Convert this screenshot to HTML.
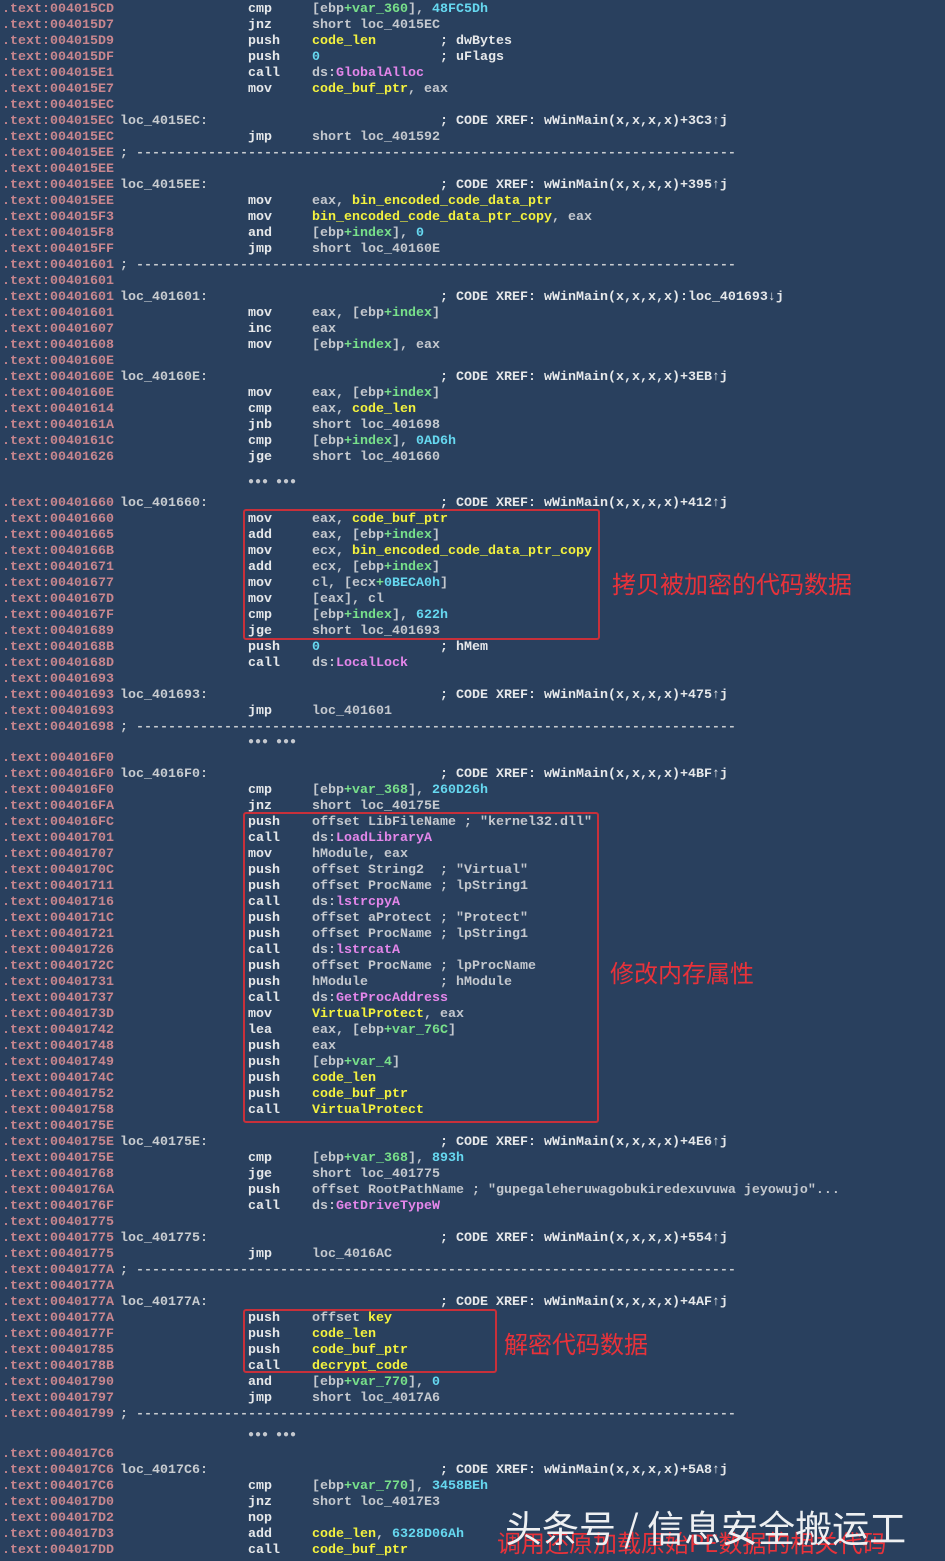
<!DOCTYPE html><html><head><meta charset="utf-8"><style>
body{margin:0;width:945px;height:1561px;background:#29405e;overflow:hidden;position:relative;font-family:"Liberation Mono",monospace;font-size:13.33px;font-weight:bold}
.r{position:absolute;left:0;height:16px;line-height:16px;white-space:pre;width:945px;color:#e6e8ea;margin-top:2px}
.r span{position:absolute}
.a{left:2px;color:#c8868e}.l{left:120px;color:#c8ccd0}.m{left:248px;color:#e6e8ea}.o{left:312px;color:#c4c8ce}.k{left:440px;color:#e6e8ea}
.r b{font-weight:bold;position:static}
.y{color:#f4f23e}.c{color:#66d8f0}.g{color:#78e08a}.p{color:#e486ea}
.box{position:absolute;border:2px solid #c8303a;border-radius:3px}
.t{position:absolute;color:#e8323a;font-family:"Noto Sans CJK SC",sans-serif;font-weight:normal;white-space:nowrap}
.d{position:absolute;left:248px;color:#c4c8ce;font-size:10px;letter-spacing:1px;margin-top:2px}
</style></head><body>
<div class="r" style="top:0"><span class="a">.text:004015CD</span><span class="m">cmp</span><span class="o">[ebp<b class="g">+var_360</b>], <b class="c">48FC5Dh</b></span></div>
<div class="r" style="top:16px"><span class="a">.text:004015D7</span><span class="m">jnz</span><span class="o">short loc_4015EC</span></div>
<div class="r" style="top:32px"><span class="a">.text:004015D9</span><span class="m">push</span><span class="o"><b class="y">code_len</b></span><span class="k">; dwBytes</span></div>
<div class="r" style="top:48px"><span class="a">.text:004015DF</span><span class="m">push</span><span class="o"><b class="c">0</b></span><span class="k">; uFlags</span></div>
<div class="r" style="top:64px"><span class="a">.text:004015E1</span><span class="m">call</span><span class="o">ds:<b class="p">GlobalAlloc</b></span></div>
<div class="r" style="top:80px"><span class="a">.text:004015E7</span><span class="m">mov</span><span class="o"><b class="y">code_buf_ptr</b>, eax</span></div>
<div class="r" style="top:96px"><span class="a">.text:004015EC</span></div>
<div class="r" style="top:112px"><span class="a">.text:004015EC</span><span class="l">loc_4015EC:</span><span class="k">; CODE XREF: wWinMain(x,x,x,x)+3C3↑j</span></div>
<div class="r" style="top:128px"><span class="a">.text:004015EC</span><span class="m">jmp</span><span class="o">short loc_401592</span></div>
<div class="r" style="top:144px"><span class="a">.text:004015EE</span><span class="l">; ---------------------------------------------------------------------------</span></div>
<div class="r" style="top:160px"><span class="a">.text:004015EE</span></div>
<div class="r" style="top:176px"><span class="a">.text:004015EE</span><span class="l">loc_4015EE:</span><span class="k">; CODE XREF: wWinMain(x,x,x,x)+395↑j</span></div>
<div class="r" style="top:192px"><span class="a">.text:004015EE</span><span class="m">mov</span><span class="o">eax, <b class="y">bin_encoded_code_data_ptr</b></span></div>
<div class="r" style="top:208px"><span class="a">.text:004015F3</span><span class="m">mov</span><span class="o"><b class="y">bin_encoded_code_data_ptr_copy</b>, eax</span></div>
<div class="r" style="top:224px"><span class="a">.text:004015F8</span><span class="m">and</span><span class="o">[ebp<b class="g">+index</b>], <b class="c">0</b></span></div>
<div class="r" style="top:240px"><span class="a">.text:004015FF</span><span class="m">jmp</span><span class="o">short loc_40160E</span></div>
<div class="r" style="top:256px"><span class="a">.text:00401601</span><span class="l">; ---------------------------------------------------------------------------</span></div>
<div class="r" style="top:272px"><span class="a">.text:00401601</span></div>
<div class="r" style="top:288px"><span class="a">.text:00401601</span><span class="l">loc_401601:</span><span class="k">; CODE XREF: wWinMain(x,x,x,x):loc_401693↓j</span></div>
<div class="r" style="top:304px"><span class="a">.text:00401601</span><span class="m">mov</span><span class="o">eax, [ebp<b class="g">+index</b>]</span></div>
<div class="r" style="top:320px"><span class="a">.text:00401607</span><span class="m">inc</span><span class="o">eax</span></div>
<div class="r" style="top:336px"><span class="a">.text:00401608</span><span class="m">mov</span><span class="o">[ebp<b class="g">+index</b>], eax</span></div>
<div class="r" style="top:352px"><span class="a">.text:0040160E</span></div>
<div class="r" style="top:368px"><span class="a">.text:0040160E</span><span class="l">loc_40160E:</span><span class="k">; CODE XREF: wWinMain(x,x,x,x)+3EB↑j</span></div>
<div class="r" style="top:384px"><span class="a">.text:0040160E</span><span class="m">mov</span><span class="o">eax, [ebp<b class="g">+index</b>]</span></div>
<div class="r" style="top:400px"><span class="a">.text:00401614</span><span class="m">cmp</span><span class="o">eax, <b class="y">code_len</b></span></div>
<div class="r" style="top:416px"><span class="a">.text:0040161A</span><span class="m">jnb</span><span class="o">short loc_401698</span></div>
<div class="r" style="top:432px"><span class="a">.text:0040161C</span><span class="m">cmp</span><span class="o">[ebp<b class="g">+index</b>], <b class="c">0AD6h</b></span></div>
<div class="r" style="top:448px"><span class="a">.text:00401626</span><span class="m">jge</span><span class="o">short loc_401660</span></div>
<div class="d" style="top:475px">●●● ●●●</div>
<div class="r" style="top:494px"><span class="a">.text:00401660</span><span class="l">loc_401660:</span><span class="k">; CODE XREF: wWinMain(x,x,x,x)+412↑j</span></div>
<div class="r" style="top:510px"><span class="a">.text:00401660</span><span class="m">mov</span><span class="o">eax, <b class="y">code_buf_ptr</b></span></div>
<div class="r" style="top:526px"><span class="a">.text:00401665</span><span class="m">add</span><span class="o">eax, [ebp<b class="g">+index</b>]</span></div>
<div class="r" style="top:542px"><span class="a">.text:0040166B</span><span class="m">mov</span><span class="o">ecx, <b class="y">bin_encoded_code_data_ptr_copy</b></span></div>
<div class="r" style="top:558px"><span class="a">.text:00401671</span><span class="m">add</span><span class="o">ecx, [ebp<b class="g">+index</b>]</span></div>
<div class="r" style="top:574px"><span class="a">.text:00401677</span><span class="m">mov</span><span class="o">cl, [ecx<b class="g">+</b><b class="c">0BECA0h</b>]</span></div>
<div class="r" style="top:590px"><span class="a">.text:0040167D</span><span class="m">mov</span><span class="o">[eax], cl</span></div>
<div class="r" style="top:606px"><span class="a">.text:0040167F</span><span class="m">cmp</span><span class="o">[ebp<b class="g">+index</b>], <b class="c">622h</b></span></div>
<div class="r" style="top:622px"><span class="a">.text:00401689</span><span class="m">jge</span><span class="o">short loc_401693</span></div>
<div class="r" style="top:638px"><span class="a">.text:0040168B</span><span class="m">push</span><span class="o"><b class="c">0</b></span><span class="k">; hMem</span></div>
<div class="r" style="top:654px"><span class="a">.text:0040168D</span><span class="m">call</span><span class="o">ds:<b class="p">LocalLock</b></span></div>
<div class="r" style="top:670px"><span class="a">.text:00401693</span></div>
<div class="r" style="top:686px"><span class="a">.text:00401693</span><span class="l">loc_401693:</span><span class="k">; CODE XREF: wWinMain(x,x,x,x)+475↑j</span></div>
<div class="r" style="top:702px"><span class="a">.text:00401693</span><span class="m">jmp</span><span class="o">loc_401601</span></div>
<div class="r" style="top:718px"><span class="a">.text:00401698</span><span class="l">; ---------------------------------------------------------------------------</span></div>
<div class="d" style="top:735px">●●● ●●●</div>
<div class="r" style="top:749px"><span class="a">.text:004016F0</span></div>
<div class="r" style="top:765px"><span class="a">.text:004016F0</span><span class="l">loc_4016F0:</span><span class="k">; CODE XREF: wWinMain(x,x,x,x)+4BF↑j</span></div>
<div class="r" style="top:781px"><span class="a">.text:004016F0</span><span class="m">cmp</span><span class="o">[ebp<b class="g">+var_368</b>], <b class="c">260D26h</b></span></div>
<div class="r" style="top:797px"><span class="a">.text:004016FA</span><span class="m">jnz</span><span class="o">short loc_40175E</span></div>
<div class="r" style="top:813px"><span class="a">.text:004016FC</span><span class="m">push</span><span class="o">offset LibFileName ; "kernel32.dll"</span></div>
<div class="r" style="top:829px"><span class="a">.text:00401701</span><span class="m">call</span><span class="o">ds:<b class="p">LoadLibraryA</b></span></div>
<div class="r" style="top:845px"><span class="a">.text:00401707</span><span class="m">mov</span><span class="o">hModule, eax</span></div>
<div class="r" style="top:861px"><span class="a">.text:0040170C</span><span class="m">push</span><span class="o">offset String2  ; "Virtual"</span></div>
<div class="r" style="top:877px"><span class="a">.text:00401711</span><span class="m">push</span><span class="o">offset ProcName ; lpString1</span></div>
<div class="r" style="top:893px"><span class="a">.text:00401716</span><span class="m">call</span><span class="o">ds:<b class="p">lstrcpyA</b></span></div>
<div class="r" style="top:909px"><span class="a">.text:0040171C</span><span class="m">push</span><span class="o">offset aProtect ; "Protect"</span></div>
<div class="r" style="top:925px"><span class="a">.text:00401721</span><span class="m">push</span><span class="o">offset ProcName ; lpString1</span></div>
<div class="r" style="top:941px"><span class="a">.text:00401726</span><span class="m">call</span><span class="o">ds:<b class="p">lstrcatA</b></span></div>
<div class="r" style="top:957px"><span class="a">.text:0040172C</span><span class="m">push</span><span class="o">offset ProcName ; lpProcName</span></div>
<div class="r" style="top:973px"><span class="a">.text:00401731</span><span class="m">push</span><span class="o">hModule         ; hModule</span></div>
<div class="r" style="top:989px"><span class="a">.text:00401737</span><span class="m">call</span><span class="o">ds:<b class="p">GetProcAddress</b></span></div>
<div class="r" style="top:1005px"><span class="a">.text:0040173D</span><span class="m">mov</span><span class="o"><b class="y">VirtualProtect</b>, eax</span></div>
<div class="r" style="top:1021px"><span class="a">.text:00401742</span><span class="m">lea</span><span class="o">eax, [ebp<b class="g">+var_76C</b>]</span></div>
<div class="r" style="top:1037px"><span class="a">.text:00401748</span><span class="m">push</span><span class="o">eax</span></div>
<div class="r" style="top:1053px"><span class="a">.text:00401749</span><span class="m">push</span><span class="o">[ebp<b class="g">+var_4</b>]</span></div>
<div class="r" style="top:1069px"><span class="a">.text:0040174C</span><span class="m">push</span><span class="o"><b class="y">code_len</b></span></div>
<div class="r" style="top:1085px"><span class="a">.text:00401752</span><span class="m">push</span><span class="o"><b class="y">code_buf_ptr</b></span></div>
<div class="r" style="top:1101px"><span class="a">.text:00401758</span><span class="m">call</span><span class="o"><b class="y">VirtualProtect</b></span></div>
<div class="r" style="top:1117px"><span class="a">.text:0040175E</span></div>
<div class="r" style="top:1133px"><span class="a">.text:0040175E</span><span class="l">loc_40175E:</span><span class="k">; CODE XREF: wWinMain(x,x,x,x)+4E6↑j</span></div>
<div class="r" style="top:1149px"><span class="a">.text:0040175E</span><span class="m">cmp</span><span class="o">[ebp<b class="g">+var_368</b>], <b class="c">893h</b></span></div>
<div class="r" style="top:1165px"><span class="a">.text:00401768</span><span class="m">jge</span><span class="o">short loc_401775</span></div>
<div class="r" style="top:1181px"><span class="a">.text:0040176A</span><span class="m">push</span><span class="o">offset RootPathName ; "gupegaleheruwagobukiredexuvuwa jeyowujo"...</span></div>
<div class="r" style="top:1197px"><span class="a">.text:0040176F</span><span class="m">call</span><span class="o">ds:<b class="p">GetDriveTypeW</b></span></div>
<div class="r" style="top:1213px"><span class="a">.text:00401775</span></div>
<div class="r" style="top:1229px"><span class="a">.text:00401775</span><span class="l">loc_401775:</span><span class="k">; CODE XREF: wWinMain(x,x,x,x)+554↑j</span></div>
<div class="r" style="top:1245px"><span class="a">.text:00401775</span><span class="m">jmp</span><span class="o">loc_4016AC</span></div>
<div class="r" style="top:1261px"><span class="a">.text:0040177A</span><span class="l">; ---------------------------------------------------------------------------</span></div>
<div class="r" style="top:1277px"><span class="a">.text:0040177A</span></div>
<div class="r" style="top:1293px"><span class="a">.text:0040177A</span><span class="l">loc_40177A:</span><span class="k">; CODE XREF: wWinMain(x,x,x,x)+4AF↑j</span></div>
<div class="r" style="top:1309px"><span class="a">.text:0040177A</span><span class="m">push</span><span class="o">offset <b class="y">key</b></span></div>
<div class="r" style="top:1325px"><span class="a">.text:0040177F</span><span class="m">push</span><span class="o"><b class="y">code_len</b></span></div>
<div class="r" style="top:1341px"><span class="a">.text:00401785</span><span class="m">push</span><span class="o"><b class="y">code_buf_ptr</b></span></div>
<div class="r" style="top:1357px"><span class="a">.text:0040178B</span><span class="m">call</span><span class="o"><b class="y">decrypt_code</b></span></div>
<div class="r" style="top:1373px"><span class="a">.text:00401790</span><span class="m">and</span><span class="o">[ebp<b class="g">+var_770</b>], <b class="c">0</b></span></div>
<div class="r" style="top:1389px"><span class="a">.text:00401797</span><span class="m">jmp</span><span class="o">short loc_4017A6</span></div>
<div class="r" style="top:1405px"><span class="a">.text:00401799</span><span class="l">; ---------------------------------------------------------------------------</span></div>
<div class="d" style="top:1428px">●●● ●●●</div>
<div class="r" style="top:1445px"><span class="a">.text:004017C6</span></div>
<div class="r" style="top:1461px"><span class="a">.text:004017C6</span><span class="l">loc_4017C6:</span><span class="k">; CODE XREF: wWinMain(x,x,x,x)+5A8↑j</span></div>
<div class="r" style="top:1477px"><span class="a">.text:004017C6</span><span class="m">cmp</span><span class="o">[ebp<b class="g">+var_770</b>], <b class="c">3458BEh</b></span></div>
<div class="r" style="top:1493px"><span class="a">.text:004017D0</span><span class="m">jnz</span><span class="o">short loc_4017E3</span></div>
<div class="r" style="top:1509px"><span class="a">.text:004017D2</span><span class="m">nop</span></div>
<div class="r" style="top:1525px"><span class="a">.text:004017D3</span><span class="m">add</span><span class="o"><b class="y">code_len</b>, <b class="c">6328D06Ah</b></span></div>
<div class="r" style="top:1541px"><span class="a">.text:004017DD</span><span class="m">call</span><span class="o"><b class="y">code_buf_ptr</b></span></div>

<div class="box" style="left:243px;top:509px;width:353px;height:127px"></div>
<div class="box" style="left:243px;top:812px;width:352px;height:307px"></div>
<div class="box" style="left:243px;top:1309px;width:250px;height:60px"></div>
<div class="t" style="left:612px;top:565px;font-size:24px">拷贝被加密的代码数据</div>
<div class="t" style="left:610px;top:954px;font-size:24px">修改内存属性</div>
<div class="t" style="left:504px;top:1325px;font-size:24px">解密代码数据</div>
<div class="t" style="left:497px;top:1524px;font-size:24px">调用还原加载原始PE数据的相关代码</div>
<div class="t" style="left:505px;top:1499px;font-size:37px;color:#eef0f2">头条号 / 信息安全搬运工</div>
</body></html>
